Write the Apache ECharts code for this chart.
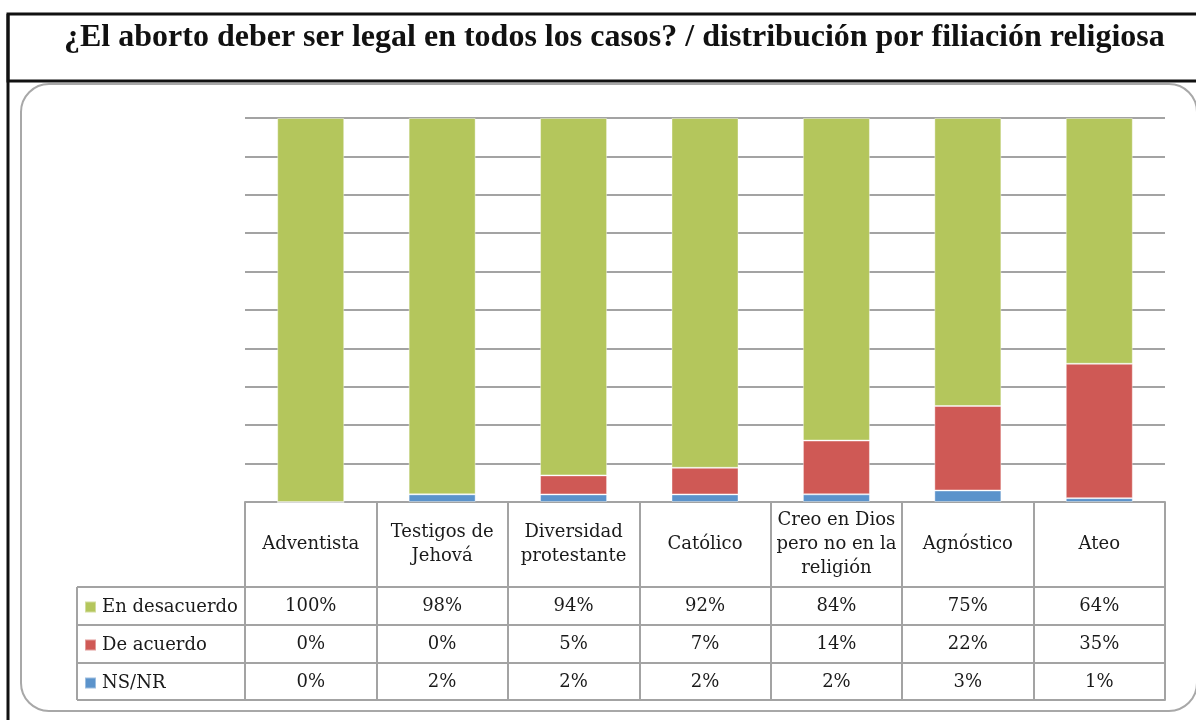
<!DOCTYPE html>
<html>
<head>
<meta charset="utf-8">
<script src="https://cdn.jsdelivr.net/npm/echarts@6/dist/echarts.min.js"></script>
<style>
  html, body { margin: 0; padding: 0; background: #fff; }
  #chart { width: 1196px; height: 720px; }
</style>
</head>
<body>
<div id="chart"></div>
<script>
// Survey: should abortion be legal in all cases, by religious affiliation
const titleText = '¿El aborto deber ser legal en todos los casos? / distribución por filiación religiosa';
const categories = [
  'Adventista',
  'Testigos de\nJehová',
  'Diversidad\nprotestante',
  'Católico',
  'Creo en Dios\npero no en la\nreligión',
  'Agnóstico',
  'Ateo'
];
const seriesNames = ['En desacuerdo', 'De acuerdo', 'NS/NR'];
const enDesacuerdo = [100, 98, 94, 92, 84, 75, 64];
const deAcuerdo = [0, 0, 5, 7, 14, 22, 35];
const nsNr = [0, 2, 2, 2, 2, 3, 1];

const colors = { 'En desacuerdo': '#b4c65c', 'De acuerdo': '#cf5955', 'NS/NR': '#5b93cb' };
const rows = { 'En desacuerdo': enDesacuerdo, 'De acuerdo': deAcuerdo, 'NS/NR': nsNr };

// 100% stacked: each column is scaled by its own total
const totals = categories.map((_, i) => enDesacuerdo[i] + deAcuerdo[i] + nsNr[i]);
const share = arr => arr.map((v, i) => v / totals[i] * 100);

// layout
const W = 1196, H = 720;
const gridL = 245, gridR = 1165, gridT = 118, gridB = 502;
const headerH = 85, rowH = 38;
const tableLeft = 77;
const lineGray = '#a3a3a3';
const textColor = '#1a1a1a';
const tableFont = 'DejaVu Serif';
const tableSize = 18;

const rowLines = [gridB + headerH, gridB + headerH + rowH, gridB + headerH + 2 * rowH, gridB + headerH + 3 * rowH - 1];

const baseAxis = {
  type: 'category',
  data: categories,
  position: 'bottom',
  boundaryGap: true,
  axisLine: { show: true, lineStyle: { color: lineGray, width: 2 } },
  axisTick: { show: false },
  axisLabel: { show: false },
  splitLine: { show: false }
};

const xAxes = [
  Object.assign({}, baseAxis, {
    axisTick: { show: true, interval: 0, length: rowLines[3] - gridB, lineStyle: { color: lineGray, width: 2 } },
    axisLabel: {
      show: true, interval: 0, margin: headerH / 2, verticalAlign: 'middle', align: 'center',
      fontFamily: tableFont, fontSize: tableSize, lineHeight: 24, color: textColor
    }
  })
];
seriesNames.forEach((name, r) => {
  const vals = rows[name];
  xAxes.push(Object.assign({}, baseAxis, {
    offset: rowLines[r] - gridB,
    axisLabel: {
      show: true, interval: 0, margin: rowH / 2, verticalAlign: 'middle', align: 'center',
      fontFamily: tableFont, fontSize: tableSize, color: textColor,
      formatter: (v, idx) => vals[idx] + '%'
    }
  }));
});
xAxes.push(Object.assign({}, baseAxis, { offset: rowLines[3] - gridB }));

// borders of the legend column of the table
const legendCol = [];
rowLines.forEach(y => legendCol.push({
  type: 'line', silent: true,
  shape: { x1: tableLeft, y1: y, x2: gridL, y2: y },
  style: { stroke: lineGray, lineWidth: 2 }
}));
legendCol.push({
  type: 'line', silent: true,
  shape: { x1: tableLeft, y1: rowLines[0], x2: tableLeft, y2: rowLines[3] },
  style: { stroke: lineGray, lineWidth: 2 }
});

const stackOrder = ['NS/NR', 'De acuerdo', 'En desacuerdo'];

const option = {
  animation: false,
  backgroundColor: '#fff',
  title: {
    text: titleText,
    left: 59,
    top: 17,
    textStyle: { fontFamily: 'Liberation Serif', fontWeight: 'bold', fontSize: 32, color: '#111' }
  },
  legend: {
    data: seriesNames,
    orient: 'vertical',
    left: tableLeft + 7,
    top: rowLines[0] + 10,
    padding: 0,
    itemWidth: 11,
    itemHeight: 11,
    itemGap: 18,
    icon: 'rect',
    selectedMode: false,
    textStyle: { fontFamily: tableFont, fontSize: tableSize, lineHeight: 20, color: textColor, padding: [0, 0, 0, 1] }
  },
  grid: {
    left: gridL, right: W - gridR, top: gridT, bottom: H - gridB,
    outerBoundsMode: 'none'
  },
  xAxis: xAxes,
  yAxis: {
    type: 'value', min: 0, max: 100, interval: 10,
    axisLine: { show: false }, axisTick: { show: false }, axisLabel: { show: false },
    splitLine: { lineStyle: { color: lineGray, width: 2 } }
  },
  series: stackOrder.map(name => ({
    name,
    type: 'bar',
    stack: 'total',
    xAxisIndex: 0,
    barWidth: 67,
    data: share(rows[name]),
    itemStyle: { color: colors[name], borderColor: 'rgba(255,255,255,0.4)', borderWidth: 1 },
    emphasis: { disabled: true }
  })),
  graphic: [
    // title frame
    { type: 'rect', silent: true, z: -1, shape: { x: 8, y: 14, width: 1200, height: 67 },
      style: { fill: 'none', stroke: '#111', lineWidth: 3 } },
    { type: 'line', silent: true, shape: { x1: 8, y1: 14, x2: 8, y2: H },
      style: { stroke: '#111', lineWidth: 3 } },
    // rounded chart frame
    { type: 'rect', silent: true, z: -1, shape: { x: 21, y: 84, width: 1176, height: 627, r: 28 },
      style: { fill: 'none', stroke: '#a8a8a8', lineWidth: 2 } }
  ].concat(legendCol)
};

const chart = echarts.init(document.getElementById('chart'), null, { renderer: 'canvas' });
chart.setOption(option);
</script>
</body>
</html>
